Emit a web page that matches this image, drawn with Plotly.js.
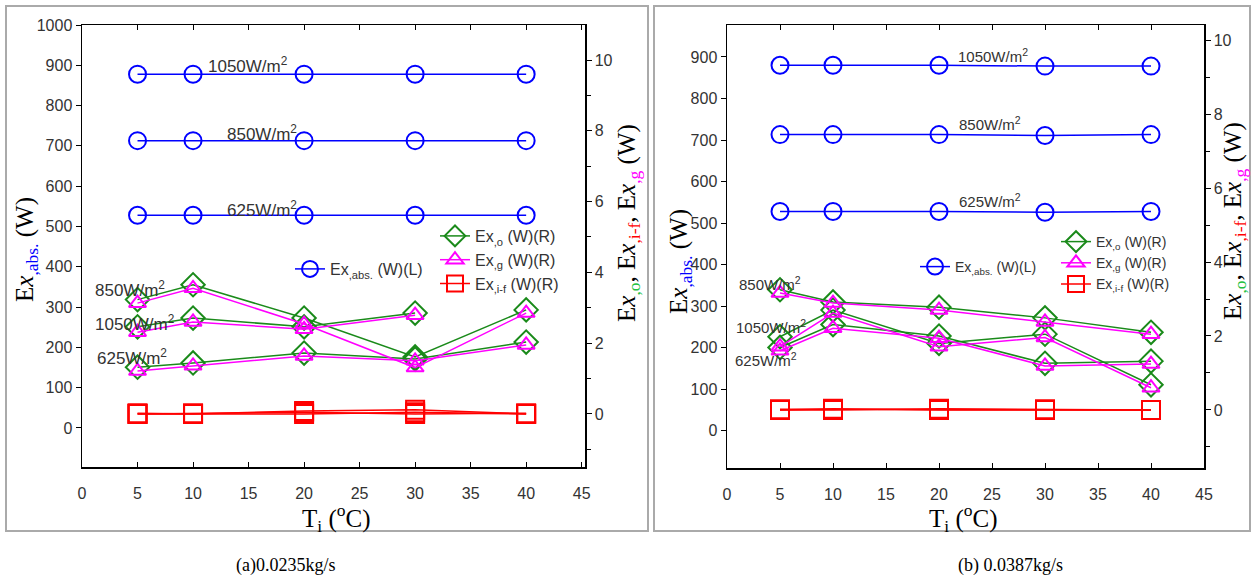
<!DOCTYPE html>
<html><head><meta charset="utf-8">
<script src="https://cdn.plot.ly/plotly-3.0.1.min.js"></script>
<style>html,body{margin:0;padding:0;background:#fff;}#chart{width:1256px;height:581px;}</style>
</head><body><div id="chart"></div>
<script>
// ---------- DATA ----------
const T = [5, 10, 20, 30, 40];
const xTicks = [0, 5, 10, 15, 20, 25, 30, 35, 40, 45];
const irradiance = ['1050W/m<sup>2</sup>', '850W/m<sup>2</sup>', '625W/m<sup>2</sup>'];

// Panel (a) 0.0235 kg/s  (abs on left axis, others on right axis)
const a_abs_1050 = [878, 878, 878, 878, 878];
const a_abs_850  = [713, 713, 713, 713, 713];
const a_abs_625  = [528, 528, 528, 528, 528];
const a_o_1050 = [2.46, 2.71, 2.46, 2.85, null];
const a_g_1050 = [2.31, 2.60, 2.39, 2.79, null];
const a_o_850  = [3.23, 3.65, 2.71, 1.61, 2.94];
const a_g_850  = [3.13, 3.55, 2.54, 1.31, 2.85];
const a_o_625  = [1.32, 1.44, 1.72, 1.55, 2.03];
const a_g_625  = [1.21, 1.36, 1.64, 1.50, 1.95];
const a_if_1050 = [0.02, 0.00, 0.08, 0.12, 0.00];
const a_if_850  = [0.00, 0.02, 0.05, 0.00, 0.02];
const a_if_625  = [0.00, 0.00, 0.00, 0.05, 0.00];

// Panel (b) 0.0387 kg/s
const b_abs_1050 = [880, 880, 880, 878, 878];
const b_abs_850  = [713, 713, 713, 711, 713];
const b_abs_625  = [528, 528, 528, 526, 528];
const b_o_1050 = [1.98, 2.70, 1.80, 2.05, 0.68];
const b_g_1050 = [1.71, 2.62, 1.71, 1.96, 0.60];
const b_o_850  = [3.25, 2.92, 2.78, 2.49, 2.10];
const b_g_850  = [3.16, 2.89, 2.70, 2.38, 2.05];
const b_o_625  = [1.69, 2.31, 2.00, 1.26, 1.32];
const b_g_625  = [1.60, 2.21, 1.94, 1.19, 1.24];
const b_if_1050 = [0.02, 0.02, 0.00, 0.00, 0.00];
const b_if_850  = [0.00, 0.00, 0.03, 0.02, 0.00];
const b_if_625  = [0.00, 0.03, 0.00, 0.00, 0.00];

// ---------- STYLE ----------
const W = 1256, H = 581;
const px = v => v / W, py = v => 1 - v / H;
const BLUE = '#0000ff', GREEN = '#1a8a1a', MAG = '#ff00ff', RED = '#ff0000';
const SANS = 'Liberation Sans, Arial, sans-serif';
const SERIF = 'Liberation Serif, Times New Roman, serif';

const traces = [];
function add(x, y, xa, ya, color, symbol, size, name, showleg, legend) {
  traces.push({
    x: x, y: y, xaxis: xa, yaxis: ya, type: 'scatter', mode: 'lines+markers',
    line: {color: color, width: 1.5},
    marker: {symbol: symbol, size: size, color: color, line: {color: color, width: 2}},
    name: name, showlegend: showleg, legend: legend, connectgaps: false
  });
}
const nmAbs = 'Ex<sub>,abs.</sub> (W)(L)';
const nmO = 'Ex<sub>,o</sub> (W)(R)';
const nmG = 'Ex<sub>,g</sub> (W)(R)';
const nmIF = 'Ex<sub>,i-f</sub> (W)(R)';

// panel a
[a_abs_1050, a_abs_850, a_abs_625].forEach((s, i) => add(T, s, 'x', 'y', BLUE, 'circle-open', 17, nmAbs, i === 0, 'legend'));
[a_o_1050, a_o_850, a_o_625].forEach((s, i) => add(T, s, 'x', 'y2', GREEN, 'diamond-open', 18, nmO, i === 0, 'legend2'));
[a_g_1050, a_g_850, a_g_625].forEach((s, i) => add(T, s, 'x', 'y2', MAG, 'triangle-up-open', 15, nmG, i === 0, 'legend2'));
[a_if_1050, a_if_850, a_if_625].forEach((s, i) => add(T, s, 'x', 'y2', RED, 'square-open', 18, nmIF, i === 0, 'legend2'));
// panel b
[b_abs_1050, b_abs_850, b_abs_625].forEach((s, i) => add(T, s, 'x2', 'y3', BLUE, 'circle-open', 17, nmAbs, i === 0, 'legend3'));
[b_o_1050, b_o_850, b_o_625].forEach((s, i) => add(T, s, 'x2', 'y4', GREEN, 'diamond-open', 18, nmO, i === 0, 'legend4'));
[b_g_1050, b_g_850, b_g_625].forEach((s, i) => add(T, s, 'x2', 'y4', MAG, 'triangle-up-open', 15, nmG, i === 0, 'legend4'));
[b_if_1050, b_if_850, b_if_625].forEach((s, i) => add(T, s, 'x2', 'y4', RED, 'square-open', 18, nmIF, i === 0, 'legend4'));

const tickFont = {family: SANS, size: 16, color: '#333'};
function xAxis(dom, anchor, range) {
  return {domain: dom, anchor: anchor, range: range, tickvals: xTicks, ticktext: xTicks.map(String),
    showline: true, linecolor: '#000', linewidth: 1.5, mirror: 'ticks', ticks: 'inside', ticklen: 5,
    tickcolor: '#000', showgrid: false, zeroline: false, tickfont: tickFont, ticklabelstandoff: 11};
}
function yLeft(dom, anchor, range, vals) {
  return {domain: dom, anchor: anchor, range: range, tickvals: vals, ticktext: vals.map(String),
    showline: true, linecolor: '#000', linewidth: 1.5, ticks: 'outside', ticklen: 5, tickcolor: '#000',
    showgrid: false, zeroline: false, tickfont: tickFont};
}
function yRight(over, anchor, range) {
  return {overlaying: over, anchor: anchor, side: 'right', range: range,
    tickvals: [0, 2, 4, 6, 8, 10], ticktext: ['0', '2', '4', '6', '8', '10'],
    minor: {tickvals: [-1, 1, 3, 5, 7, 9, 11], ticks: 'outside', ticklen: 4, tickcolor: '#000'},
    showline: true, linecolor: '#000', linewidth: 1.5, ticks: 'outside', ticklen: 5, tickcolor: '#000',
    showgrid: false, zeroline: false, tickfont: tickFont};
}

const domA = [px(82), px(585)], domB = [px(727), px(1204)];
const yDomA = [py(467), py(25)], yDomB = [py(468), py(25)];

const annFontA = {family: SANS, size: 17, color: '#333'};
const annFontB = {family: SANS, size: 15, color: '#333'};
function lab(text, x, y, font) {
  return {text: text, x: px(x), y: py(y), xref: 'paper', yref: 'paper', showarrow: false,
    xanchor: 'center', yanchor: 'middle', font: font};
}
const ytitleL = 'E<i>x</i><sub><span style="color:#0000ff">,abs.</span></sub> (W)';
const ytitleR = 'E<i>x</i><sub><span style="color:#22c040">,o</span></sub>, E<i>x</i><sub><span style="color:#ff0000">,i-f</span></sub>, E<i>x</i><sub><span style="color:#ff00ff">,g</span></sub> (W)';
const xtitle = 'T<sub>i</sub> (<sup>o</sup>C)';
const titleFont = {family: SERIF, size: 25, color: '#000'};

const annotations = [
  lab(irradiance[0], 248, 65, annFontA), lab(irradiance[1], 262, 133, annFontA), lab(irradiance[2], 262, 209, annFontA),
  lab(irradiance[1], 130, 289, annFontA), lab(irradiance[0], 135, 323, annFontA), lab(irradiance[2], 132, 357, annFontA),
  lab(irradiance[0], 993, 55, annFontB), lab(irradiance[1], 990, 124, annFontB), lab(irradiance[2], 990, 200, annFontB),
  lab(irradiance[1], 770, 283, annFontB), lab(irradiance[0], 771, 326, annFontB), lab(irradiance[2], 766, 359, annFontB),
  Object.assign(lab(ytitleL, 26, 250, titleFont), {textangle: -90}),
  Object.assign(lab(ytitleR, 628, 223, titleFont), {textangle: -90}),
  Object.assign(lab(ytitleL, 680, 262, titleFont), {textangle: -90}),
  Object.assign(lab(ytitleR, 1234, 221, titleFont), {textangle: -90}),
  lab(xtitle, 336, 518, titleFont), lab(xtitle, 963, 518, titleFont),
  lab('(a)0.0235kg/s', 285, 565, {family: SERIF, size: 18, color: '#000'}),
  lab('(b) 0.0387kg/s', 1010, 565, {family: SERIF, size: 18, color: '#000'})
];

const legBase = {xanchor: 'left', yanchor: 'top', bgcolor: 'rgba(0,0,0,0)', borderwidth: 0, tracegroupgap: 0, itemwidth: 30};
const layout = {
  width: W, height: H, margin: {l: 0, r: 0, t: 0, b: 0}, autosize: false,
  paper_bgcolor: '#fff', plot_bgcolor: 'rgba(0,0,0,0)', showlegend: true,
  xaxis: xAxis(domA, 'y', [0, 45.3]),
  yaxis: yLeft(yDomA, 'x', [-97, 1000], [0, 100, 200, 300, 400, 500, 600, 700, 800, 900, 1000]),
  yaxis2: yRight('y', 'x', [-1.50, 10.99]),
  xaxis2: xAxis(domB, 'y3', [0, 45]),
  yaxis3: yLeft(yDomB, 'x2', [-90, 977], [0, 100, 200, 300, 400, 500, 600, 700, 800, 900]),
  yaxis4: yRight('y3', 'x2', [-1.57, 10.41]),
  legend: Object.assign({}, legBase, {x: px(290), y: py(252), font: {family: SANS, size: 16, color: '#333'}}),
  legend2: Object.assign({}, legBase, {x: px(435), y: py(219), font: {family: SANS, size: 16, color: '#333'}}),
  legend3: Object.assign({}, legBase, {x: px(915), y: py(251), font: {family: SANS, size: 14, color: '#333'}}),
  legend4: Object.assign({}, legBase, {x: px(1056), y: py(226), font: {family: SANS, size: 14, color: '#333'}}),
  annotations: annotations,
  shapes: [
    {type: 'rect', xref: 'paper', yref: 'paper', x0: px(6), x1: px(648), y0: py(531), y1: py(6), line: {color: '#aaa', width: 2}},
    {type: 'rect', xref: 'paper', yref: 'paper', x0: px(654), x1: px(1250), y0: py(531), y1: py(6), line: {color: '#aaa', width: 2}}
  ]
};
Plotly.newPlot('chart', traces, layout, {staticPlot: true, displayModeBar: false});
</script>
</body></html>
